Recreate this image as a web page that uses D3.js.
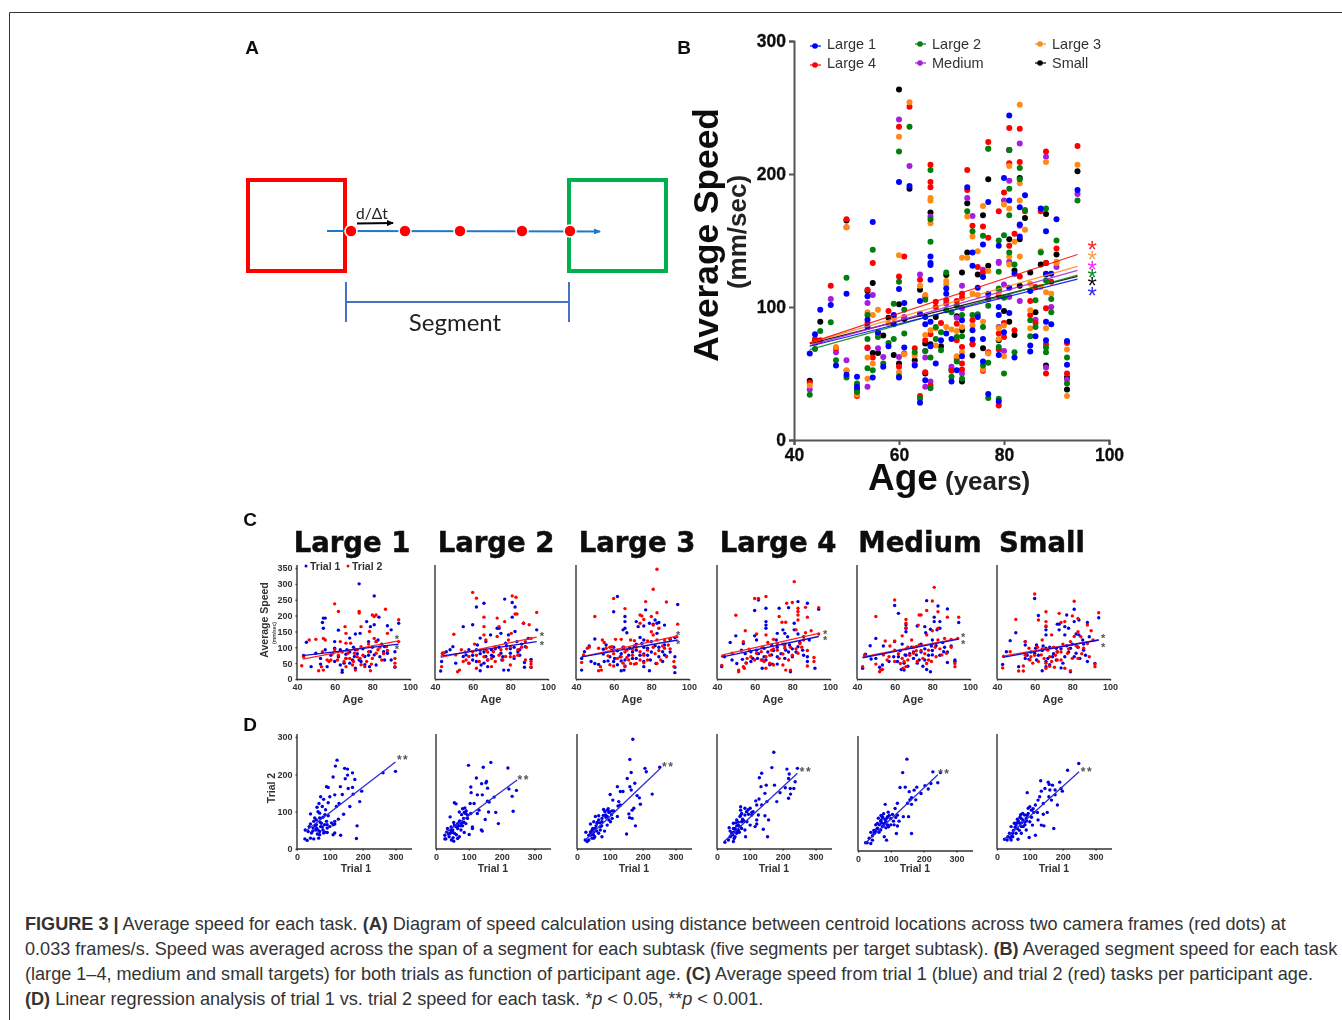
<!DOCTYPE html>
<html>
<head>
<meta charset="utf-8">
<script src="https://d3js.org/d3.v7.min.js"></script>
<style>
html,body{margin:0;padding:0;background:#fff}
svg{display:block}
text{font-family:"Liberation Sans",Arial,sans-serif}
</style>
</head>
<body>
<div id="fig"></div>
<script>
// panel B, average speed by age for each task
const large1 = [[43,65],[44,79.5],[45,98],[47,101.5],[48,56],[50,110],[50,49],[52,47.5],[52,40],[54,108],[54,90.5],[54,85],[55,164],[55,47],[56,81],[57,55],[58,70.5],[59,94],[59,87],[60,194],[60,113.5],[60,47],[61,103],[61,69.5],[62,191],[63,56],[64,104.5],[64,95],[64,28],[65,92.5],[65,87],[65,45],[66,138],[66,133],[66,131.5],[66,120.5],[66,89],[66,70.5],[67,57.5],[68,75],[69,114],[69,110],[69,80],[70,76],[70,44],[71,52.5],[72,90],[72,63],[73,190],[74,141],[74,131],[74,82.5],[74,75.5],[75,114.5],[75,92.5],[76,147],[76,122.5],[76,76],[76,59],[77,179],[77,110],[77,34.5],[79,146],[79,100],[79,94],[79,64],[79,29],[80,197],[80,81],[81,244],[81,180],[81,114.5],[81,95.5],[82,125],[82,62],[83,175],[83,162],[83,153],[84,184],[85,112],[85,71],[85,66.5],[87,174],[86,78],[88,157],[88,125],[88,89],[88,75],[90,166],[89,125],[89,87],[92,74.5],[92,56.5],[94,188]];
const large2 = [[43,34],[44,68.5],[45,82],[47,88.5],[48,60],[50,122],[50,47],[52,42.5],[52,36],[54,94],[54,76],[54,54],[55,143],[55,52.5],[56,77.5],[57,57.5],[58,73],[59,102.5],[59,76],[60,217],[60,119],[60,48],[61,98],[61,80],[62,235.5],[63,66],[64,31],[65,105.5],[65,67],[66,203],[66,166],[66,149],[66,62],[66,39],[67,85],[67,76],[68,81],[68,67.5],[69,126],[69,97.5],[70,96],[70,47.5],[71,101],[71,77.5],[71,59],[72,94],[72,78],[72,46],[73,172],[74,157],[74,94],[75,94.5],[76,153.5],[76,85],[76,56],[77,219],[77,101],[77,58],[77,31.5],[79,150],[79,126.5],[79,114],[79,70],[79,31],[80,154],[80,107],[80,50],[81,218],[81,189],[81,169],[81,141],[82,132],[82,66],[83,204.5],[83,196],[84,173],[85,90],[85,78],[86,105],[86,85],[88,174],[87,141],[88,120],[88,69.5],[88,66],[89,106],[89,96],[90,150],[92,62],[92,42.5],[94,180]];
const large3 = [[43,41],[44,72.5],[48,70],[50,160],[50,52.5],[52,34],[54,96],[54,62],[54,46],[55,94],[55,57.5],[56,98],[58,87.5],[59,92],[60,228],[60,139],[60,51],[61,64.5],[62,254],[63,63.5],[64,116],[65,109],[65,79],[66,182],[66,180],[66,163],[66,82.5],[67,84],[67,71],[69,119.5],[69,117],[69,85],[70,83],[71,82],[71,63],[72,85],[72,137],[72,66],[73,168],[73,137],[74,153],[74,110],[74,86],[75,142],[75,109],[76,176],[76,89],[76,53],[77,219],[77,127],[77,65],[79,111],[79,84],[79,76],[80,177],[80,86],[80,63],[81,206],[81,174],[81,138],[81,132],[82,149],[83,252],[83,193],[83,180],[83,138],[84,158],[85,117.5],[85,97.5],[85,84],[87,142],[87,115],[88,209],[88,111],[88,84],[90,134],[90,133],[92,68],[92,33],[94,207],[89,110]];
const large4 = [[43,43],[44,76],[45,75],[47,116],[48,69],[50,166],[50,52],[52,33],[54,113],[54,88],[54,69.5],[55,133],[55,62],[56,80],[58,97],[59,92],[60,235.5],[60,123],[60,55],[61,138],[61,65],[62,250.5],[63,69],[64,120.5],[64,33],[65,107.5],[65,75],[65,51],[66,207],[66,194],[66,190],[66,79.5],[66,41],[67,104],[67,100],[68,88],[69,105],[70,52],[71,104.5],[71,87.5],[71,75],[71,61],[72,110],[72,107],[72,70],[72,57.5],[72,53],[73,203],[73,188],[74,161],[74,90],[74,72],[75,130],[76,160.5],[76,126],[76,52],[77,224],[77,152],[77,66],[79,172],[79,108],[79,80],[79,68],[79,26],[80,186],[80,88],[80,77.5],[81,234.5],[81,208],[81,146],[82,155],[82,82.5],[83,234],[83,209],[83,123],[84,172],[85,104.5],[85,94],[87,172],[86,115],[86,88],[88,217],[88,133],[88,99],[88,72],[88,50],[89,119],[90,144],[92,73],[92,50],[94,221]];
const medium = [[43,38],[47,106],[48,66],[50,160],[50,60],[52,36],[54,103],[54,69],[54,40],[55,109],[56,69],[57,62.5],[60,241],[60,62.5],[61,92.5],[62,206],[63,57],[64,124.5],[65,67],[65,62],[65,40],[66,168],[66,44],[69,102.5],[70,55],[71,92],[72,116],[72,99],[72,50],[73,182],[74,168.5],[74,72],[76,128],[77,106],[79,134],[79,133],[79,85],[80,180],[80,117],[80,67],[81,218],[81,195],[81,134],[81,107.5],[83,223],[83,161],[83,104.5],[86,90.5],[88,213],[88,54.5],[89,100],[90,130],[92,45.5],[94,185]];
const small = [[43,44.5],[44,74],[45,89],[50,165],[52,38],[54,112],[55,118],[55,65.5],[56,65.5],[57,78.5],[58,92],[59,64],[60,263.5],[60,102],[60,57.5],[61,91],[62,189],[63,60],[64,113],[65,72.5],[65,50],[66,171],[66,72],[67,92.5],[68,70.5],[69,124],[70,53],[71,93],[72,126],[72,82.5],[72,44],[73,178],[73,141],[74,63.5],[75,124.5],[76,169],[76,69],[77,196],[77,131],[79,113],[79,75],[80,97],[81,218],[81,151],[81,89],[82,127.5],[82,79],[83,197],[83,151],[84,167],[83,116],[85,126],[86,96],[87,132],[88,170],[88,133],[88,124.5],[88,56],[90,139.5],[92,47],[92,38],[94,202]];

const taskNames = ['Large 1','Large 2','Large 3','Large 4','Medium','Small'];
const taskColors = ['#0000ff','#007f0e','#ff8a14','#ff0000','#a61fe0','#000000'];
const starColors = ['#2a2aff','#0a8a2a','#ff9a50','#ff2020','#ff20ff','#111111'];
const taskSeries = [large1,large2,large3,large4,medium,small];
// trend line speed at age 43 and age 94
const taskTrend = [[70.5,121],[68,124],[73,130.5],[73,139.5],[71,127.5],[72.5,123]];
const starSpeeds = [112,125,139,146,131.5,119];
const trendAges = [43,94];

// panel C, speed by age per trial
const c1Trial1 = [[73,300],[81,262],[94,176],[83.5,195],[54,192],[55,192],[53.5,178],[62,154],[45,116],[54,160],[77,181],[79,165],[81,171],[88,168],[90,155],[82,118],[71,142],[73.5,144],[68,129],[60,118],[43.5,74],[50,81],[55,92],[60,97],[63,92],[66.5,92],[71,92],[78,118],[83,123],[86.5,102],[92,86],[86,86],[81,76],[76,71],[70.5,71],[66,65],[60,55],[56,39],[52.5,47],[47.5,39],[64,28],[64,21],[68,50],[71,34],[78.5,39],[82,44],[86.5,60],[92,37],[74,55],[63,44],[52.5,65],[79,86],[69.5,60],[88,81],[66,78],[70,100],[72,80],[75,95],[78,75],[80,100],[84,70],[62,70],[58,75],[68,85],[73,60],[85,110],[76,45],[90,60],[65,50]];
const c1Trial2 = [[60,237],[62,213],[73,213],[73,208],[80,202],[82,202],[81,197],[87,220],[94,187],[65.5,165],[74,165],[66,144],[78.5,150],[88,144],[46.5,123],[50,125],[63,118],[66,113],[54,128],[55,123],[81,128],[82,118],[74,102],[94,118],[68.5,113],[59,81],[53.5,86],[43.5,70],[42.5,42],[51.5,26],[54,28],[53,39],[57,55],[56,60],[61.5,60],[67,81],[70.5,81],[72,92],[78,86],[83,92],[87.5,102],[92,65],[92,50],[92,39],[71,28],[66,39],[76,39],[79,26],[79.5,47],[85,60],[82,81],[65,55],[69.5,44],[77,55],[73.5,65],[60,92],[64,85],[68,65],[72,70],[75,75],[78,110],[80,65],[84,100],[86,80],[62,75],[58,60],[70,55],[74,45],[66,65],[88,90]];
const c2Trial1 = [[66,239],[62,227],[77,252],[81,241],[82.5,227],[81,195],[55,165],[60,171],[94,155],[87,176],[73,160],[74,160],[64,129],[69.5,139],[75,144],[82.5,150],[79,139],[67,118],[62.5,107],[89.5,128],[46,86],[44,81],[49.5,102],[43.5,55],[43,25],[51,50],[58,92],[70,92],[77.5,113],[83.5,118],[86,110],[88,102],[91,62],[91,37],[87.5,37],[87.5,52],[82,65],[80,81],[75,81],[71,71],[67,71],[64.5,44],[64,26],[66,50],[68,39],[76.5,28],[79,28],[55,71],[48,92],[56.5,76],[75.5,60],[60,60],[85,92],[62,92],[64,80],[68,60],[70,75],[72,95],[74,100],[76,70],[78,105],[80,95],[82,100],[84,85],[66,85],[60,75],[62,55],[58,50],[85,75]];
const c2Trial2 = [[60,273],[62,255],[81,262],[83,258],[94,210],[66,195],[66,165],[50,141],[73,192],[77,181],[83.5,205],[87,176],[90,171],[82.5,205],[66,139],[74,165],[73,134],[80.5,144],[67,123],[61,110],[44,81],[45,83],[43.5,39],[54,92],[52,23],[53,28],[56.5,60],[55,55],[58,71],[68,60],[70,39],[72,55],[75,92],[79,123],[82,71],[84,92],[88,118],[91,128],[91,55],[91,47],[91,37],[88.5,100],[63.5,55],[67,92],[71,86],[77.5,71],[80,44],[62,34],[80,102],[51,76],[60,86],[62,75],[64,90],[66,70],[68,85],[72,100],[74,75],[76,60],[78,95],[80,70],[84,75],[86,100],[70,65],[56,85],[58,50],[88,60]];
const c3Trial1 = [[62,260],[60,212],[94,235],[77,218],[66,197],[66,181],[66,160],[65,155],[67,146],[72,181],[76,167],[73,165],[79,176],[81,173],[83,176],[84,178],[82,186],[87,170],[50,126],[47,104],[44.5,86],[43,65],[43,28],[54.5,94],[56,107],[60,100],[65,100],[71,104],[74,131],[76,123],[75,112],[80,118],[83,144],[87,107],[90,125],[92.5,131],[84,100],[78,97],[76,100],[72,91],[68.5,97],[62,89],[59,91],[54.5,79],[48,55],[50,49],[52,46],[55,55],[57,57],[60,55],[60.5,65],[64,57],[66,41],[65.5,28],[64,26],[70,65],[72,65],[76,79],[76,39],[79.5,60],[79,26],[82.5,49],[86,86],[87,76],[88,72],[92.5,70],[92.5,37],[92.5,20],[63.5,70],[64,80],[68,75],[70,85],[72,110],[74,75],[78,75],[80,85],[82,105],[84,70],[66,60],[62,45],[58,70],[86,55],[76,55],[90,85]];
const c3Trial2 = [[83,346],[81,283],[60,254],[77,244],[66,222],[88,243],[50,197],[83,209],[80,197],[76,188],[74,202],[75,199],[74,176],[94,173],[81,170],[84,160],[80,149],[81,139],[54,123],[55,115],[61,125],[93.5,133],[90,128],[87,123],[83,123],[78,120],[71,121],[69,123],[64,125],[59,102],[58,100],[56,97],[52,97],[44,76],[43,52],[47,100],[46,97],[65.5,100],[67,91],[70,94],[74,86],[78,91],[81,100],[86,104],[89,107],[57,73],[64,70],[67,68],[69,49],[71,47],[72,49],[66,39],[60,41],[53,39],[53.5,28],[52,26],[76,51],[83,49],[88,70],[92,55],[92,39],[87,97],[60,80],[62,65],[66,85],[68,60],[70,75],[72,100],[74,60],[76,75],[78,60],[82,80],[84,90],[85,60],[65,50],[58,45],[90,95]];
const c4Trial1 = [[62,249],[60,216],[66,223],[81,176],[83,244],[88,239],[94,220],[78,225],[73,223],[66,181],[66,170],[66,160],[50,136],[47,115],[54,112],[60,136],[61,123],[72,144],[75,155],[76,144],[71.5,123],[81,155],[83,142],[77.5,133],[86,133],[89,123],[78.5,107],[69,107],[65,97],[58,86],[53,91],[44,70],[42.5,39],[48,60],[50.5,49],[53.5,62],[55.5,51],[59,65],[61.5,65],[65,70],[64,34],[69.5,47],[72,47],[72,70],[76.5,91],[80,70],[83,102],[85.5,91],[88,70],[88,55],[92,34],[79,23],[66,60],[69,76],[76,65],[61,91],[62,80],[64,60],[67,85],[70,90],[72,100],[74,80],[76,110],[78,85],[80,95],[82,85],[84,115],[86,75],[68,45],[58,55],[55,80]];
const c4Trial2 = [[81,307],[60,254],[62,254],[66,260],[50,201],[77,239],[80,241],[83,223],[83,213],[83,202],[87,226],[94,225],[88,195],[73,197],[74.5,179],[76.5,179],[83,186],[55,152],[61,142],[66,139],[90,152],[94,142],[87,146],[82,155],[70,125],[72,112],[57,94],[54,118],[43,72],[42.5,43],[48,81],[51.5,23],[51.5,28],[54,39],[54.5,34],[61,81],[63.5,86],[67,115],[76,104],[79,100],[84,112],[86,123],[76,97],[75,79],[70,44],[75,44],[79,28],[76.5,28],[88,41],[91.5,68],[91.5,55],[65,55],[66,34],[55.5,50],[69,91],[63.5,60],[72,91],[83,81],[58,70],[60,60],[64,100],[66,70],[68,75],[70,95],[73,65],[75,110],[78,60],[80,75],[82,95],[85,100],[68,50],[56,65],[88,90]];
const c5Trial1 = [[60,232],[62,207],[77,247],[83,230],[88,221],[94,178],[81,195],[84,181],[81,181],[72,167],[76,165],[76.5,146],[79,157],[82.5,155],[84,160],[50,128],[47,105],[60,118],[54,104],[66,160],[66,170],[66,149],[64,110],[69,100],[74,110],[80,123],[85.5,115],[90,104],[86.5,100],[79.5,104],[71.5,102],[65.5,76],[62,70],[57,55],[50,65],[47.5,63],[44.5,78],[43,34],[52,37],[53.5,44],[59.5,70],[61.5,55],[65,28],[63.5,30],[70,65],[73,60],[77,30],[79,23],[76,60],[80,76],[86,86],[88,52],[92,60],[92,55],[71.5,76],[63,90],[66,75],[68,80],[70,85],[72,50],[74,85],[76,95],[78,75],[80,90],[82,105],[84,75],[65,50],[67,40],[75,40],[88,85]];
const c5Trial2 = [[81,289],[60,249],[80,246],[77,216],[83,212],[50,197],[73,202],[74,202],[94,195],[88,195],[66,188],[66,176],[66,160],[72.5,170],[83,160],[80,152],[64,136],[55,120],[60,120],[57.5,104],[67,100],[69,123],[77,139],[86.5,128],[90,125],[93.5,128],[81.5,100],[78,91],[71.5,89],[60,91],[54,76],[44,76],[43,39],[50,47],[52,23],[52.5,28],[53.5,30],[60,55],[64.5,34],[66,39],[70,81],[75,65],[77,49],[85,76],[87.5,81],[92,49],[92,39],[79.5,55],[57,70],[73,107],[83,123],[67,60],[63,49],[62,80],[64,65],[66,95],[68,75],[70,100],[72,55],[74,90],[76,80],[78,60],[80,110],[82,70],[84,95],[65,55],[56,60],[90,100]];
const c6Trial1 = [[60,254],[81,220],[94,193],[62,200],[73,173],[77,202],[66,155],[66,165],[72,173],[76,165],[81,181],[83.5,186],[88,178],[50,146],[47,121],[55,118],[61,107],[66,139],[73,155],[76,139],[78,160],[82,142],[83.5,139],[89,133],[85.5,123],[64.5,104],[55,107],[45,86],[43,46],[51.5,39],[55,65],[57,62],[60.5,97],[66,97],[71.5,97],[79,97],[76,70],[82,81],[86,91],[92,49],[88,55],[79,23],[71.5,60],[66,55],[64,26],[66,39],[69.5,70],[60,81],[81,70],[58,85],[62,75],[64,90],[67,65],[68,45],[70,80],[72,85],[74,95],[75,50],[77,105],[78,85],[80,110],[83,100],[84,65],[87,75],[68,100],[61,60],[86,110],[56,75],[74,35]];
const c6Trial2 = [[60,268],[81,245],[50,188],[66,212],[73,207],[80,199],[94,209],[83,191],[76,181],[74,178],[66,181],[62,186],[66,167],[90,152],[88,170],[81,134],[83,149],[64,123],[69,139],[55,118],[57,97],[47,86],[43,35],[43.5,72],[51.5,25],[54,41],[54,25],[61.5,100],[65,65],[66,34],[69,55],[72,86],[79,118],[84.5,133],[91,123],[89,70],[92,39],[92,47],[79,26],[76,34],[70.5,37],[74,60],[77.5,81],[83,100],[86,97],[88,112],[67,91],[58,70],[63.5,76],[72,60],[83,65],[57.5,60],[60,75],[62,55],[64,95],[68,70],[70,100],[71,75],[74,85],[75,110],[78,95],[80,65],[82,105],[85,80],[66,50],[59,50],[55,75],[68,40]];
const ageTrial1 = [c1Trial1,c2Trial1,c3Trial1,c4Trial1,c5Trial1,c6Trial1];
const ageTrial2 = [c1Trial2,c2Trial2,c3Trial2,c4Trial2,c5Trial2,c6Trial2];
// trend speed at age 43 and 94
const ageTrend1 = [[74,110],[72,118],[70,123],[70,134],[67,126],[68,123]];
const ageTrend2 = [[63,120],[68,132],[70,136],[76,144],[70,128],[72,123]];
// star age, upper and lower speed
const ageStars = [[93,125,96],[96.7,137,108],[94.2,140,109],[97.4,143,122],[96.3,133,111],[96.3,128,100]];

// panel D, trial 1 against trial 2
const d1 = [[122,238],[117,222],[145,216],[154,214],[169,204],[154,198],[110,193],[147,188],[176,186],[90,167],[95,165],[132,167],[156,162],[169,165],[197,155],[72,140],[100,140],[81,133],[67,122],[95,124],[138,146],[115,145],[171,147],[41,94],[61,112],[77,114],[87,105],[64,100],[120,114],[128,122],[161,114],[191,127],[262,204],[300,208],[183,62],[181,28],[133,37],[142,93],[126,80],[24,27],[31,23],[41,29],[51,27],[66,29],[69,38],[81,43],[92,44],[115,43],[110,38],[34,47],[44,43],[25,51],[49,56],[64,51],[79,51],[92,56],[92,65],[84,65],[51,74],[41,67],[37,60],[59,78],[69,83],[79,85],[95,89],[115,74],[115,67],[110,65],[59,65],[74,69],[54,83],[69,96],[90,74],[69,47],[77,59],[57,51],[60,56],[70,72],[72,60],[85,45],[100,60],[105,70],[62,40],[55,62],[48,48],[85,92]];
const d2 = [[99,224],[167,232],[144,219],[219,217],[123,190],[139,175],[152,177],[154,181],[157,163],[106,166],[107,151],[126,145],[141,145],[177,139],[222,161],[245,157],[232,141],[235,101],[190,68],[182,98],[160,99],[150,79],[162,126],[157,128],[131,104],[126,95],[56,124],[61,121],[43,86],[71,99],[81,108],[88,110],[104,122],[116,122],[86,98],[96,91],[106,95],[111,59],[111,55],[138,51],[141,48],[101,39],[81,62],[76,68],[66,68],[56,64],[46,59],[35,55],[33,46],[27,37],[30,27],[47,24],[54,21],[71,33],[66,28],[86,44],[56,42],[43,42],[40,33],[51,51],[66,55],[76,51],[91,68],[84,82],[96,82],[54,71],[71,73],[27,27],[60,60],[68,62],[75,62],[72,75],[80,70],[85,72],[90,95],[50,45],[45,50],[38,40],[62,38],[52,30],[92,102],[78,92]];
const d3Pairs = [[170,294],[161,240],[165,205],[207,216],[211,207],[252,219],[153,189],[176,176],[123,167],[161,167],[165,158],[132,154],[140,154],[101,146],[109,131],[127,127],[229,147],[183,143],[190,137],[193,120],[132,118],[125,115],[173,109],[168,104],[158,94],[160,84],[168,82],[178,62],[151,40],[123,87],[107,102],[112,102],[81,106],[92,104],[66,89],[56,87],[66,78],[51,73],[41,67],[61,69],[76,82],[92,87],[97,78],[102,73],[92,64],[76,73],[71,60],[71,51],[84,48],[66,42],[51,46],[41,46],[27,45],[36,37],[25,24],[31,20],[36,24],[51,29],[54,33],[46,29],[76,33],[56,55],[46,51],[87,91],[97,98],[107,82],[41,37],[58,62],[62,72],[70,70],[80,90],[85,100],[95,108],[100,100],[88,85],[48,55],[42,40],[60,48],[50,38],[75,62],[105,92]];
const d4 = [[173,259],[167,218],[213,214],[245,216],[220,201],[136,203],[129,191],[150,171],[175,171],[134,167],[218,189],[238,180],[208,164],[223,162],[234,162],[224,147],[192,151],[218,136],[182,127],[146,149],[128,134],[118,129],[152,127],[136,118],[121,118],[157,78],[141,53],[154,33],[116,60],[121,78],[146,89],[126,91],[72,113],[85,109],[101,109],[106,98],[96,93],[72,104],[70,87],[60,78],[37,57],[50,69],[85,91],[75,73],[91,73],[65,64],[50,55],[65,51],[75,55],[85,51],[50,45],[60,42],[45,42],[55,33],[24,18],[35,24],[40,33],[50,20],[87,33],[101,64],[121,67],[106,91],[40,48],[57,48],[65,72],[70,60],[60,62],[55,55],[78,80],[82,75],[90,100],[95,105],[72,90],[48,38],[52,28],[60,50],[42,35],[68,45],[110,100],[75,95],[58,70]];
const d5 = [[149,246],[136,210],[228,212],[251,210],[243,183],[204,175],[222,181],[128,170],[144,171],[156,159],[171,163],[179,171],[214,166],[192,154],[163,143],[176,137],[158,137],[163,125],[151,128],[83,125],[120,128],[113,114],[92,104],[105,98],[120,96],[138,92],[154,92],[125,80],[110,70],[120,67],[117,47],[163,47],[90,92],[74,89],[69,79],[85,79],[90,70],[54,70],[59,61],[74,65],[64,50],[49,47],[80,38],[87,29],[39,50],[44,41],[34,34],[23,22],[28,22],[39,20],[44,29],[80,74],[100,87],[93,65],[59,74],[69,56],[52,56],[75,92],[82,85],[88,88],[70,82],[65,70],[60,60],[55,52],[48,55],[72,75],[78,68],[95,95],[85,62],[100,70],[108,80],[115,90],[62,88],[70,95],[78,100]];
const d6 = [[249,229],[215,211],[133,183],[156,179],[159,173],[169,171],[191,179],[146,162],[135,155],[130,140],[161,158],[177,158],[158,140],[177,145],[195,162],[199,155],[92,151],[166,131],[184,118],[125,131],[141,122],[117,118],[100,113],[105,104],[112,98],[123,98],[141,93],[153,98],[135,64],[143,62],[173,55],[117,37],[98,31],[125,78],[95,95],[84,91],[74,82],[62,80],[53,69],[69,69],[84,73],[89,82],[100,73],[108,64],[62,55],[74,60],[89,51],[58,42],[48,42],[38,42],[33,33],[23,26],[31,24],[43,24],[64,26],[48,33],[74,42],[79,78],[58,64],[43,60],[95,109],[70,85],[75,70],[80,60],[65,75],[60,70],[55,58],[68,50],[85,65],[92,90],[105,85],[78,95],[50,50],[45,35],[40,30],[72,92],[90,75],[110,108]];
const trialPairs = [d1,d2,d3Pairs,d4,d5,d6];
// regression line ends [t1,t2],[t1,t2]
const trialFits = [[[25,47],[300,233]],[[27,42],[247,185]],[[25,24],[254,216]],[[22,20],[245,203]],[[21,20],[243,204]],[[20,24],[250,207]]];
const trialStars = [[323,240],[267,187],[278,221],[271,210],[263,210],[274,210]];

const bAgeTicks = [40,60,80,100], bSpeedTicks = [0,100,200,300];
const cAgeTicks = [40,60,80,100], cSpeedTicks = [0,50,100,150,200,250,300,350];
const dTrialTicks = [0,100,200,300];

const captionLines = [
  [['b','FIGURE 3 |'],['n',' Average speed for each task. '],['b','(A)'],['n',' Diagram of speed calculation using distance between centroid locations across two camera frames (red dots) at']],
  [['n','0.033 frames/s. Speed was averaged across the span of a segment for each subtask (five segments per target subtask). '],['b','(B)'],['n',' Averaged segment speed for each task']],
  [['n','(large 1–4, medium and small targets) for both trials as function of participant age. '],['b','(C)'],['n',' Average speed from trial 1 (blue) and trial 2 (red) tasks per participant age.']],
  [['b','(D)'],['n',' Linear regression analysis of trial 1 vs. trial 2 speed for each task. *'],['i','p'],['n',' < 0.05, **'],['i','p'],['n',' < 0.001.']]
];

// layout
const W = 1342, H = 1020;
const cLefts = [297,435,576,717,857,997], dLefts = [297,436,577,717,858,997];
const dBases = [849,849,849,849,851,849];
const titleX = [352,496,637,778,920,1042];

const svg = d3.select('#fig').append('svg').attr('width',W).attr('height',H);
const defs = svg.append('defs');
defs.append('filter').attr('id','soft').append('feGaussianBlur').attr('stdDeviation',0.45);
defs.append('marker').attr('id','blueHead').attr('markerWidth',7).attr('markerHeight',6).attr('refX',6).attr('refY',3).attr('orient','auto').attr('markerUnits','userSpaceOnUse')
  .append('path').attr('d','M0,0L7,3L0,6Z').attr('fill','#1f78c8');
defs.append('marker').attr('id','blackHead').attr('markerWidth',7).attr('markerHeight',6).attr('refX',6).attr('refY',3).attr('orient','auto').attr('markerUnits','userSpaceOnUse')
  .append('path').attr('d','M0,0L7,3L0,6Z').attr('fill','#000');

// frame
svg.append('path').attr('d',`M9.5,${H}V12.5H${W}`).attr('fill','none').attr('stroke','#333').attr('stroke-width',1);

const fig = svg.append('g').attr('filter','url(#soft)');
[['A',252,54],['B',684,54],['C',250,526],['D',250,731]].forEach(([t,x,y])=>{
  fig.append('text').attr('x',x).attr('y',y).attr('text-anchor','middle').attr('font-size',19).attr('font-weight',700).attr('fill','#111').text(t);
});

drawDiagram(fig.append('g'));
drawSpeedByAge(fig.append('g'));
taskNames.forEach((n,i)=>{
  fig.append('text').attr('x',titleX[i]).attr('y',552).attr('text-anchor','middle').style('font-family','"DejaVu Sans"')
    .attr('font-size',27.5).attr('font-weight',700).attr('fill','#111').attr('stroke','#111').attr('stroke-width',0.5).text(n);
  drawTrials(fig.append('g'),i);
  drawRegression(fig.append('g'),i);
});

function drawDiagram(g){
  g.append('rect').attr('x',248).attr('y',180).attr('width',97).attr('height',91).attr('fill','none').attr('stroke','#ff0000').attr('stroke-width',4);
  g.append('rect').attr('x',569).attr('y',180).attr('width',97).attr('height',91).attr('fill','none').attr('stroke','#00b050').attr('stroke-width',4);
  g.append('line').attr('x1',327).attr('x2',600).attr('y1',231).attr('y2',231.5).attr('stroke','#1f78c8').attr('stroke-width',2).attr('marker-end','url(#blueHead)');
  [351,405,460,522,570].forEach(x=>{
    g.append('circle').attr('cx',x).attr('cy',231).attr('r',6).attr('fill','#ff0000').attr('stroke','#fff').attr('stroke-width',1.5);
  });
  g.append('line').attr('x1',357).attr('x2',393).attr('y1',223.5).attr('y2',223).attr('stroke','#000').attr('stroke-width',2).attr('marker-end','url(#blackHead)');
  g.append('text').attr('x',372).attr('y',219).attr('text-anchor','middle').attr('font-size',15.5).style('font-family','Lato').attr('fill','#222').text('d/Δt');
  g.append('path').attr('d','M346,282V322M346,302H569M569,282V322').attr('fill','none').attr('stroke','#4472c4').attr('stroke-width',2);
  g.append('text').attr('x',455).attr('y',331).attr('text-anchor','middle').attr('font-size',24).style('font-family','Lato').attr('fill','#222').text('Segment');
}

function drawSpeedByAge(g){
  const x = d3.scaleLinear().domain([40,100]).range([794,1109]);
  const y = d3.scaleLinear().domain([0,300]).range([440,41]);
  const xAxis = g.append('g').attr('transform','translate(0,440)').call(d3.axisBottom(x).tickValues(bAgeTicks).tickFormat(d3.format('d')).tickSizeOuter(0).tickSize(5));
  const yAxis = g.append('g').attr('transform','translate(794,0)').call(d3.axisLeft(y).tickValues(bSpeedTicks).tickSizeOuter(0).tickSize(5));
  [xAxis,yAxis].forEach(a=>{
    a.selectAll('path,line').attr('stroke','#555').attr('stroke-width',2);
    a.selectAll('text').attr('font-size',17.5).attr('font-weight',700).attr('fill','#111').attr('stroke','#111').attr('stroke-width',0.3).style('font-family','"Liberation Sans"');
  });
  xAxis.selectAll('text').attr('dy','0.72em');
  // Small is underneath, Large 1 on top
  d3.range(5,-1,-1).forEach(i=>{
    g.append('g').selectAll('circle').data(taskSeries[i]).join('circle')
      .attr('cx',d=>x(d[0])).attr('cy',d=>y(d[1])).attr('r',3).attr('fill',taskColors[i]);
  });
  const line = d3.line().x(d=>x(d[0])).y(d=>y(d[1]));
  [5,1,4,2,3,0].forEach(i=>{
    g.append('path').attr('d',line([[trendAges[0],taskTrend[i][0]],[trendAges[1],taskTrend[i][1]]])).attr('fill','none')
      .attr('stroke',taskColors[i]).attr('stroke-width',1.2).attr('stroke-opacity',0.85);
  });
  // stars share one text, they sit closer together than their line height
  const stars = g.append('text').attr('text-anchor','middle').attr('font-size',24);
  starSpeeds.forEach((s,i)=>stars.append('tspan').attr('x',x(97)-1).attr('y',y(s)+12.5).attr('fill',starColors[i]).text('*'));
  // legend
  const lx = [815,920,1040], ly = [44,63];
  taskNames.forEach((n,i)=>{
    const gx = lx[i%3], row = Math.floor(i/3), gy = ly[row]+(i%3===0?2:0);
    g.append('line').attr('x1',gx-5).attr('x2',gx+6).attr('y1',gy).attr('y2',gy).attr('stroke',taskColors[i]).attr('stroke-width',1.2);
    g.append('circle').attr('cx',gx).attr('cy',gy).attr('r',2.8).attr('fill',taskColors[i]);
    g.append('text').attr('x',gx+12).attr('y',ly[row]+5).attr('font-size',14.5).attr('fill','#333').text(n);
  });
  g.append('text').attr('transform','translate(718,235) rotate(-90)').attr('text-anchor','middle').attr('font-size',35.3).attr('font-weight',700).attr('fill','#111').text('Average Speed');
  g.append('text').attr('transform','translate(746,232) rotate(-90)').attr('text-anchor','middle').attr('font-size',26).attr('font-weight',700).attr('fill','#222').text('(mm/sec)');
  g.append('text').attr('x',868).attr('y',490).attr('font-size',37).attr('font-weight',700).attr('fill','#111').text('Age');
  g.append('text').attr('x',945).attr('y',490).attr('font-size',26).attr('font-weight',700).attr('fill','#222').text('(years)');
}

function drawTrials(g,i){
  const l = cLefts[i];
  const x = d3.scaleLinear().domain([40,100]).range([l,l+113]);
  const y = d3.scaleLinear().domain([0,350]).range([679,568]);
  const xAxis = g.append('g').attr('transform','translate(0,679)').call(d3.axisBottom(x).tickValues(cAgeTicks).tickFormat(d3.format('d')).tickSize(1.5).tickSizeOuter(0));
  const yAxis = g.append('g').attr('transform',`translate(${l},0)`).call(d3.axisLeft(y).tickValues(i===0?cSpeedTicks:[]).tickSize(1.5).tickSizeOuter(0));
  yAxis.select('path').attr('d',`M0,679V565`);
  [xAxis,yAxis].forEach(a=>{
    a.selectAll('path,line').attr('stroke','#333').attr('stroke-width',1.4);
    a.selectAll('text').attr('font-size',9).attr('font-weight',700).attr('fill','#333').style('font-family','"Liberation Sans"');
  });
  [[ageTrial1[i],'#0000e0'],[ageTrial2[i],'#ff0000']].forEach(([pts,col])=>{
    g.append('g').selectAll('circle').data(pts).join('circle').attr('cx',d=>x(d[0])).attr('cy',d=>y(d[1])).attr('r',1.7).attr('fill',col);
  });
  const line = d3.line().x(d=>x(d[0])).y(d=>y(d[1]));
  g.append('path').attr('d',line([[43,ageTrend2[i][0]],[94,ageTrend2[i][1]]])).attr('fill','none').attr('stroke','#ff2020').attr('stroke-width',1.3);
  g.append('path').attr('d',line([[43,ageTrend1[i][0]],[94,ageTrend1[i][1]]])).attr('fill','none').attr('stroke','#1010d0').attr('stroke-width',1.3);
  const stars = g.append('text').attr('text-anchor','middle').attr('font-size',11).attr('font-weight',700).attr('fill','#555');
  ageStars[i].slice(1).forEach(s=>stars.append('tspan').attr('x',x(ageStars[i][0])).attr('y',y(s)+4).text('*'));
  g.append('text').attr('x',l+56).attr('y',703).attr('text-anchor','middle').attr('font-size',11).attr('font-weight',700).attr('fill','#333').text('Age');
  if(i===0){
    g.append('text').attr('transform','translate(268,620) rotate(-90)').attr('text-anchor','middle').attr('font-size',10.5).attr('font-weight',700).attr('fill','#333').text('Average Speed');
    g.append('text').attr('transform','translate(276,633) rotate(-90)').attr('text-anchor','middle').attr('font-size',5).attr('font-weight',700).attr('fill','#444').text('(mm/sec)');
    [[306,'#0000e0','Trial 1'],[348,'#ff0000','Trial 2']].forEach(([px,col,t])=>{
      g.append('circle').attr('cx',px).attr('cy',566).attr('r',1.5).attr('fill',col);
      g.append('text').attr('x',px+4).attr('y',570).attr('font-size',10.5).attr('font-weight',700).attr('fill','#333').text(t);
    });
  }
}

function drawRegression(g,i){
  const l = dLefts[i], b = dBases[i];
  const x = d3.scaleLinear().domain([0,300]).range([l,l+98.5]);
  const y = d3.scaleLinear().domain([0,300]).range([b,b-112]);
  const xAxis = g.append('g').attr('transform',`translate(0,${b})`).call(d3.axisBottom(x).tickValues(dTrialTicks).tickSize(1.5).tickSizeOuter(0));
  xAxis.select('path').attr('d',`M${l},0H${l+115}`);
  const yAxis = g.append('g').attr('transform',`translate(${l},0)`).call(d3.axisLeft(y).tickValues(i===0?dTrialTicks:[]).tickSize(1.5).tickSizeOuter(0));
  yAxis.select('path').attr('d',`M0,${b}V${b-115}`);
  [xAxis,yAxis].forEach(a=>{
    a.selectAll('path,line').attr('stroke','#333').attr('stroke-width',1.4);
    a.selectAll('text').attr('font-size',9).attr('font-weight',700).attr('fill','#333').style('font-family','"Liberation Sans"');
  });
  g.append('g').selectAll('circle').data(trialPairs[i]).join('circle').attr('cx',d=>x(d[0])).attr('cy',d=>y(d[1])).attr('r',1.7).attr('fill','#0000e0');
  const line = d3.line().x(d=>x(d[0])).y(d=>y(d[1]));
  g.append('path').attr('d',line(trialFits[i])).attr('fill','none').attr('stroke','#2a2ad8').attr('stroke-width',1.3);
  g.append('text').attr('x',x(trialStars[i][0])).attr('y',y(trialStars[i][1])+5).attr('text-anchor','middle').attr('font-size',12).attr('font-weight',700).attr('letter-spacing',1.5).attr('fill','#555').text('**');
  g.append('text').attr('x',l+(i===0?59:57)).attr('y',872).attr('text-anchor','middle').attr('font-size',10.5).attr('font-weight',700).attr('fill','#333').text('Trial 1');
  if(i===0) g.append('text').attr('transform','translate(275,788) rotate(-90)').attr('text-anchor','middle').attr('font-size',10.5).attr('font-weight',700).attr('fill','#333').text('Trial 2');
}

// caption
const cap = svg.append('g');
captionLines.forEach((parts,i)=>{
  const t = cap.append('text').attr('x',25).attr('y',930+i*25).attr('font-size',18.1).attr('fill','#333');
  parts.forEach(([k,s])=>{
    const sp = t.append('tspan').text(s);
    if(k==='b') sp.attr('font-weight',700);
    if(k==='i') sp.attr('font-style','italic');
  });
});
</script>
</body>
</html>
